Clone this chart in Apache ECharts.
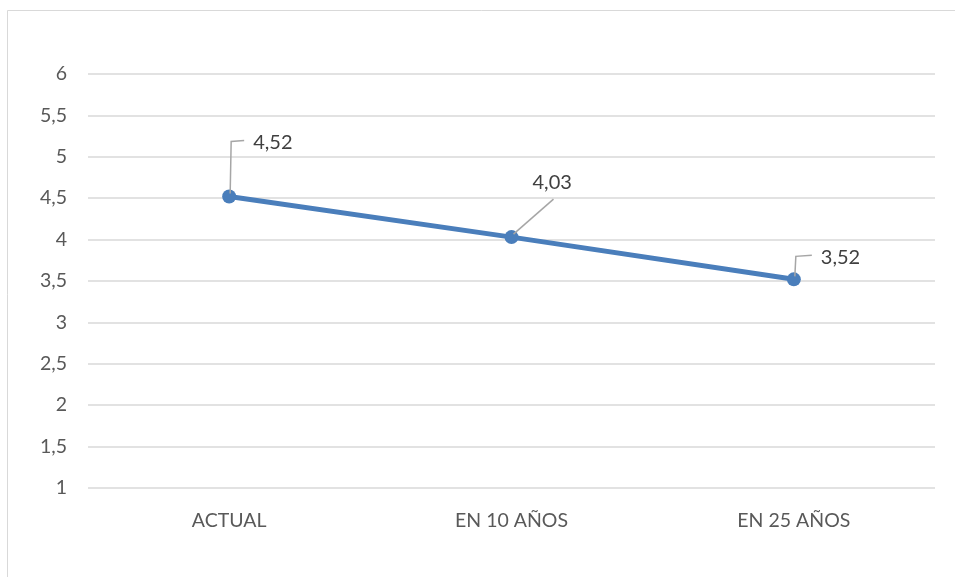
<!DOCTYPE html>
<html>
<head>
<meta charset="utf-8">
<script src="https://cdn.jsdelivr.net/npm/echarts@6/dist/echarts.min.js"></script>
<style>
  html, body { margin: 0; padding: 0; background: #ffffff; }
  #chart { width: 955px; height: 577px; }
</style>
</head>
<body>
<div id="chart"></div>
<script>
// Categories and values
const categories = ['ACTUAL', 'EN 10 AÑOS', 'EN 25 AÑOS'];
const values = [4.52, 4.03, 3.52];
const yTicks = { min: 1, max: 6, interval: 0.5 };

// Label placement relative to each point (dx, dy of the text's left/middle)
const labelOffsets = [[24, -54], [21, -55], [27, -22]];

const fmt = v => String(v).replace('.', ',');
const FONT = 'Lato';
const TEXT = '#595959';
const BLUE = '#4a7ebb';

const chart = echarts.init(document.getElementById('chart'));

chart.setOption({
  animation: false,
  backgroundColor: '#ffffff',
  grid: { left: 88, right: 20, top: 74, bottom: 89, containLabel: false },
  xAxis: {
    type: 'category',
    data: categories,
    boundaryGap: true,
    axisLine: { show: false },
    axisTick: { show: false },
    axisLabel: { color: TEXT, fontFamily: FONT, fontSize: 19.5, margin: 23 }
  },
  yAxis: {
    type: 'value',
    min: yTicks.min,
    max: yTicks.max,
    interval: yTicks.interval,
    axisLine: { show: false },
    axisTick: { show: false },
    axisLabel: { color: TEXT, fontFamily: FONT, fontSize: 19.5, margin: 21, formatter: v => fmt(v) },
    splitLine: { lineStyle: { color: '#d9d9d9', width: 1.5 } }
  },
  series: [{
    type: 'line',
    data: values,
    symbol: 'circle',
    symbolSize: 14,
    lineStyle: { color: BLUE, width: 5 },
    itemStyle: { color: BLUE },
    label: { show: false }
  }]
});

// Data labels with leader lines, positioned from the series' own pixel coordinates
const graphics = [];
values.forEach((v, i) => {
  const p = chart.convertToPixel({ seriesIndex: 0 }, [i, v]);
  const [dx, dy] = labelOffsets[i];
  let pts;
  if (i === 1) {
    pts = [[p[0] + 2, p[1] - 3], [p[0] + 42, p[1] - 38]];
  } else {
    pts = [[p[0] + 1, p[1] - 3], [p[0] + 2, p[1] + dy - 1], [p[0] + dx - 9, p[1] + dy - 2]];
  }
  graphics.push({
    type: 'polyline',
    shape: { points: pts },
    style: { stroke: '#a6a6a6', lineWidth: 1.5, fill: null },
    z: 5
  });
  graphics.push({
    type: 'text',
    x: p[0] + dx,
    y: p[1] + dy,
    style: {
      text: fmt(v),
      fill: '#404040',
      font: '20px ' + FONT,
      textVerticalAlign: 'middle',
      textAlign: 'left'
    },
    z: 6
  });
});

// Outer chart frame
graphics.push({
  type: 'rect',
  shape: { x: 7.5, y: 10.5, width: 1000, height: 600 },
  style: { stroke: '#d9d9d9', lineWidth: 1, fill: null },
  z: 0
});

chart.setOption({ graphic: graphics });
</script>
</body>
</html>
